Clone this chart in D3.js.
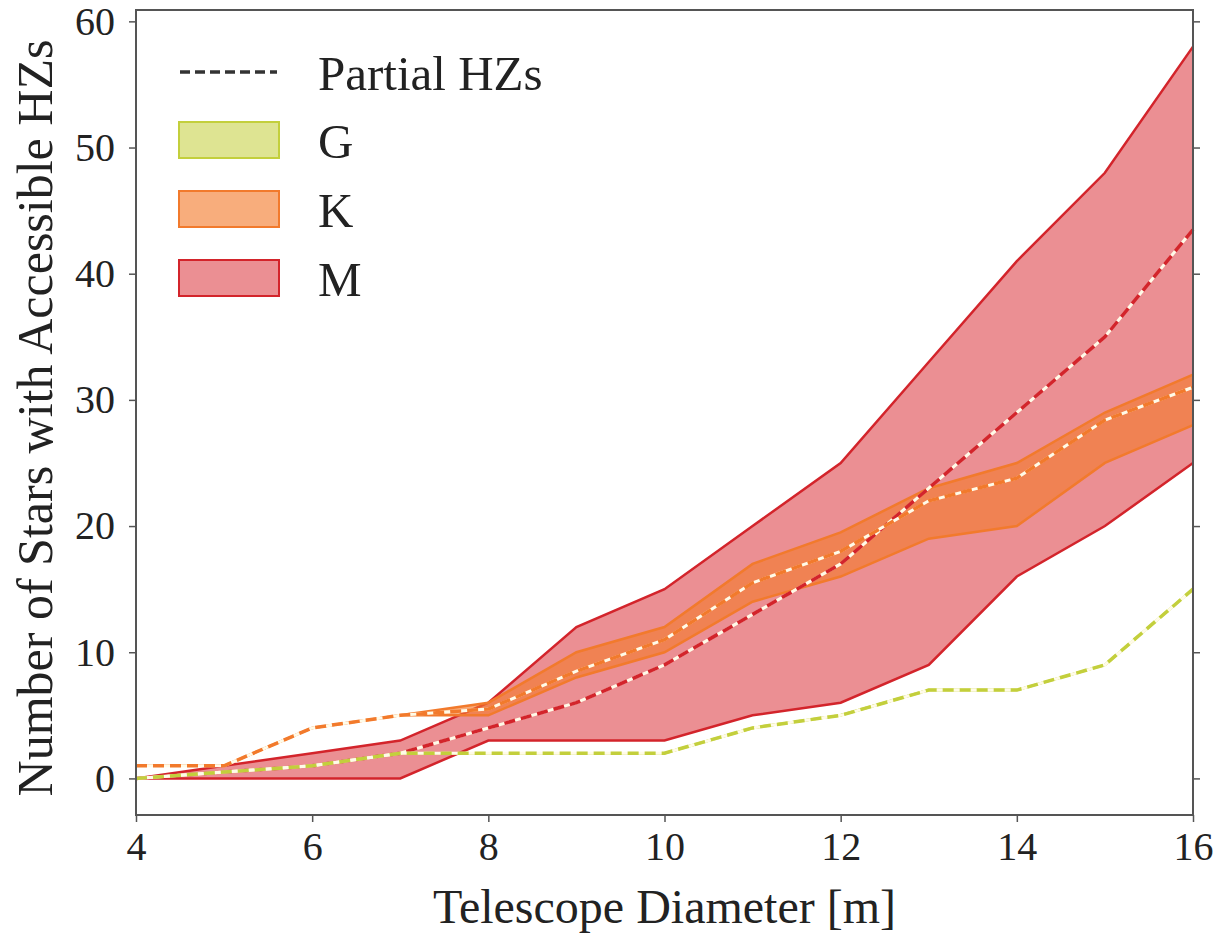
<!DOCTYPE html>
<html>
<head>
<meta charset="utf-8">
<script src="https://cdn.jsdelivr.net/npm/d3@7"></script>
</head>
<body style="margin:0; background:#fff">
<svg width="1223" height="937"></svg>
<script>
// data
const diameters = [4, 5, 6, 7, 8, 9, 10, 11, 12, 13, 14, 15, 16];

const mUpper   = [0, 1, 2, 3, 6, 12, 15, 20, 25, 33, 41, 48, 58];
const mLower   = [0, 0, 0, 0, 3, 3, 3, 5, 6, 9, 16, 20, 25];
const mPartial = [0, 0.5, 1, 2, 4, 6, 9, 13, 17, 23, 29, 35, 43.5];

const kUpper   = [1, 1, 4, 5, 6, 10, 12, 17, 19.5, 23, 25, 29, 32];
const kLower   = [1, 1, 4, 5, 5, 8, 10, 14, 16, 19, 20, 25, 28];
const kPartial = [1, 1, 4, 5, 5.5, 8.5, 11, 15.5, 18, 22, 23.8, 28.4, 31];

const gUpper   = [0, 0.5, 1, 2, 2, 2, 2, 4, 5, 7, 7, 9, 15];
const gLower   = [0, 0.5, 1, 2, 2, 2, 2, 4, 5, 7, 7, 9, 15];
const gPartial = [0, 0.5, 1, 2, 2, 2, 2, 4, 5, 7, 7, 9, 15];

const xTicks = [4, 6, 8, 10, 12, 14, 16];
const yTicks = [0, 10, 20, 30, 40, 50, 60];
const legendLabels = ["Partial HZs", "G", "K", "M"];

const FONT = '"Liberation Serif"';
const svg = d3.select("svg");

const x = d3.scaleLinear().domain([4, 16]).range([136, 1193]);
const y = d3.scaleLinear().domain([-2.9, 60.9]).range([815, 10]);

// bandas (M abajo, luego K, luego G)
const bands = [
  {up: mUpper, lo: mLower, part: mPartial, fill: "#de4a50", edge: "#d3242b", op: 0.62},
  {up: kUpper, lo: kLower, part: kPartial, fill: "#f47a2c", edge: "#f27a2c", op: 0.62},
  {up: gUpper, lo: gLower, part: gPartial, fill: "#c8d24a", edge: "#c3cf3c", op: 0.6}
];

const area = d3.area()
  .x((d, i) => x(diameters[i]))
  .y0(d => y(d[0]))
  .y1(d => y(d[1]));

const line = d3.line()
  .x((d, i) => x(diameters[i]))
  .y(d => y(d));

bands.forEach(b => {
  const pts = b.up.map((v, i) => [b.lo[i], v]);
  svg.append("path")
    .attr("d", area(pts))
    .attr("fill", b.fill)
    .attr("fill-opacity", b.op);
  svg.append("path")
    .attr("d", line(b.up))
    .attr("fill", "none")
    .attr("stroke", b.edge)
    .attr("stroke-width", 2.5);
  svg.append("path")
    .attr("d", line(b.lo))
    .attr("fill", "none")
    .attr("stroke", b.edge)
    .attr("stroke-width", 2.5);
});

// lineas "partial HZs": blanco debajo + guiones de color
bands.forEach(b => {
  svg.append("path")
    .attr("d", line(b.part))
    .attr("fill", "none")
    .attr("stroke", "#fffbe8")
    .attr("stroke-width", 3);
  svg.append("path")
    .attr("d", line(b.part))
    .attr("fill", "none")
    .attr("stroke", b.edge)
    .attr("stroke-width", 3.5)
    .attr("stroke-dasharray", "11,6");
});

// ejes
const axisColor = "#555";
const gx = svg.append("g")
  .attr("transform", "translate(0,815)")
  .call(d3.axisBottom(x).tickValues(xTicks).tickSize(7).tickPadding(10).tickFormat(d3.format("d")));
const gy = svg.append("g")
  .attr("transform", "translate(136,0)")
  .call(d3.axisLeft(y).tickValues(yTicks).tickSize(7).tickPadding(14).tickFormat(d3.format("d")));
const gr = svg.append("g")
  .attr("transform", "translate(1193,0)")
  .call(d3.axisRight(y).tickValues(yTicks).tickSize(7).tickFormat(""));

[gx, gy, gr].forEach(g => {
  g.attr("font-family", null).attr("font-size", null);
  g.select(".domain").remove();
  g.selectAll(".tick line").attr("stroke", axisColor).attr("stroke-width", 1.5);
  g.selectAll("text")
    .style("font-family", FONT)
    .style("font-size", "40px")
    .attr("fill", "#222");
});

// marco
svg.append("rect")
  .attr("x", 136).attr("y", 10)
  .attr("width", 1193 - 136).attr("height", 815 - 10)
  .attr("fill", "none")
  .attr("stroke", axisColor)
  .attr("stroke-width", 2);

// titulos de ejes
svg.append("text")
  .attr("x", (136 + 1193) / 2).attr("y", 923)
  .attr("text-anchor", "middle")
  .style("font-family", FONT)
  .style("font-size", "48px")
  .attr("fill", "#222")
  .text("Telescope Diameter [m]");

svg.append("text")
  .attr("transform", "translate(52,418) rotate(-90)")
  .attr("text-anchor", "middle")
  .style("font-family", FONT)
  .style("font-size", "50px")
  .attr("fill", "#222")
  .text("Number of Stars with Accessible HZs");

// leyenda
const leg = svg.append("g");
leg.append("line")
  .attr("x1", 180).attr("x2", 277).attr("y1", 72).attr("y2", 72)
  .attr("stroke", "#333").attr("stroke-width", 3.5)
  .attr("stroke-dasharray", "10,5");
leg.append("text")
  .attr("x", 318).attr("y", 90)
  .style("font-family", FONT)
  .style("font-size", "49px")
  .attr("fill", "#222")
  .text(legendLabels[0]);

const legBands = [bands[2], bands[1], bands[0]];
const legY = [122, 191, 260];
legBands.forEach((b, i) => {
  leg.append("rect")
    .attr("x", 179).attr("y", legY[i])
    .attr("width", 100).attr("height", 36)
    .attr("fill", b.fill).attr("fill-opacity", b.op)
    .attr("stroke", b.edge).attr("stroke-width", 2);
  leg.append("text")
    .attr("x", 318).attr("y", legY[i] + 36)
    .style("font-family", FONT)
    .style("font-size", "49px")
    .attr("fill", "#222")
    .text(legendLabels[i + 1]);
});
</script>
</body>
</html>
